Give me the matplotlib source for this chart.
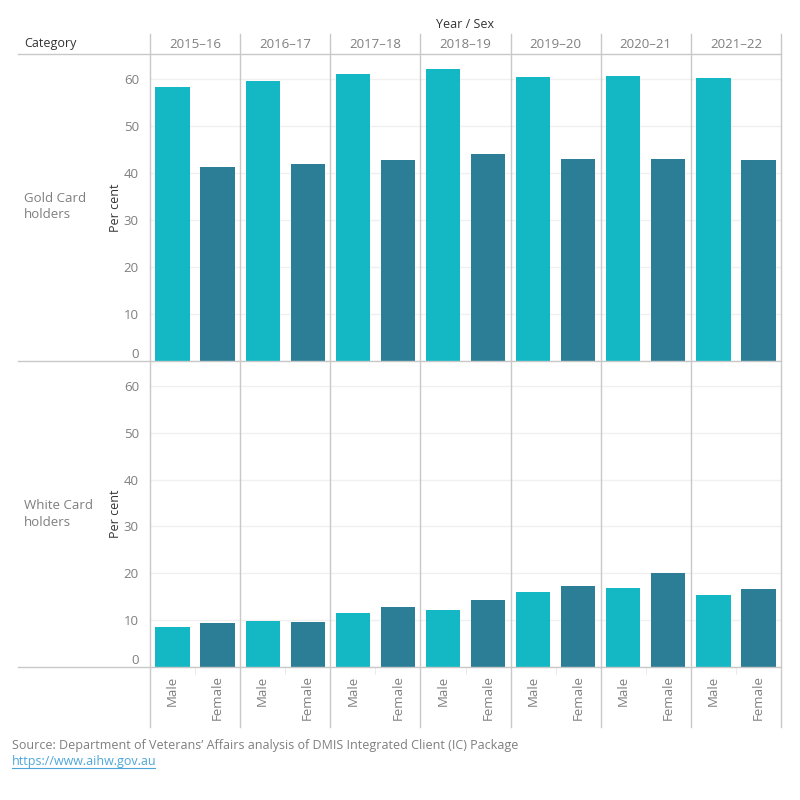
import matplotlib.pyplot as plt
from matplotlib.lines import Line2D

years = ["2015–16", "2016–17", "2017–18", "2018–19", "2019–20", "2020–21", "2021–22"]
sexes = ["Male", "Female"]
categories = ["Gold Card\nholders", "White Card\nholders"]
gold_male = [58.3, 59.6, 61.1, 62.1, 60.4, 60.6, 60.2]
gold_female = [41.3, 41.9, 42.8, 44.0, 43.0, 43.0, 42.8]
white_male = [8.5, 9.8, 11.5, 12.1, 16.0, 16.8, 15.3]
white_female = [9.4, 9.6, 12.8, 14.3, 17.3, 20.0, 16.6]

MALE_C = "#14B8C4"
FEMALE_C = "#2C7E97"
GRID_C = "#C8C8C8"
TXT_GREY = "#7F7F7F"

plt.rcParams["font.family"] = ["Open Sans", "DejaVu Sans"]

W = H = 800
fig = plt.figure(figsize=(8, 8), dpi=100)


def px(x, y):
    return x / W, 1 - y / H


def fig_line(x0, y0, x1, y1, color=GRID_C, lw=1.0):
    a, b = px(x0, y0)
    c, d = px(x1, y1)
    fig.add_artist(Line2D([a, c], [b, d], transform=fig.transFigure,
                          color=color, lw=lw, zorder=10))


panels = [(54, 361, gold_male, gold_female), (361, 667, white_male, white_female)]
axes = []
for top, bottom, male, female in panels:
    l, b = px(150, bottom)
    ax = fig.add_axes([l, b, 631 / W, (bottom - top) / H])
    xm = [2 * i for i in range(len(years))]
    xf = [2 * i + 1 for i in range(len(years))]
    ax.bar(xm, male, width=0.76, color=MALE_C, zorder=3)
    ax.bar(xf, female, width=0.76, color=FEMALE_C, zorder=3)
    ax.set_xlim(-0.5, 2 * len(years) - 0.5)
    ax.set_ylim(0, 65.3)
    ax.set_yticks(range(0, 61, 10))
    ax.yaxis.grid(True, color="#F0F0F0", lw=1, zorder=0)
    ax.tick_params(axis="y", length=0, pad=8, labelsize=9.5, labelcolor=TXT_GREY)
    ax.get_yticklabels()[0].set_verticalalignment("bottom")
    for s in ax.spines.values():
        s.set_visible(False)
    ax.set_ylabel("Per cent", fontsize=9, color="#333333", labelpad=1)
    axes.append(ax)

axes[0].set_xticks([])
ax = axes[1]
ax.set_xticks(range(2 * len(years)))
ax.set_xticklabels(sexes * len(years), rotation=90, fontsize=9.5, color=TXT_GREY)
ax.tick_params(axis="x", length=0, pad=6)
ax.set_xticks([2 * i + 0.5 for i in range(len(years))], minor=True)
ax.tick_params(axis="x", which="minor", length=5, color="#E6E6E6")

# frame lines
for x in [150 + 90.14 * i for i in range(len(years) + 1)]:
    fig_line(x, 34, x, 727)
for y in [54, 361, 667]:
    fig_line(18, y, 781, y)

# headers
fig.text(*px(465, 24), "Year / Sex", ha="center", va="center", fontsize=9,
         color="#333333", fontweight="medium")
fig.text(*px(24, 44), "Category", ha="left", va="center", fontsize=9,
         color="#333333", fontweight="medium")
for i, yr in enumerate(years):
    fig.text(*px(150 + 90.14 * (i + 0.5), 44), yr, ha="center", va="center",
             fontsize=9.5, color=TXT_GREY)
fig.text(*px(24, 207), categories[0], ha="left", va="center", fontsize=9.5,
         color=TXT_GREY, linespacing=1.3)
fig.text(*px(24, 514), categories[1], ha="left", va="center", fontsize=9.5,
         color=TXT_GREY, linespacing=1.3)

# footer
fig.text(*px(12, 745), "Source: Department of Veterans’ Affairs analysis of DMIS Integrated Client (IC) Package",
         ha="left", va="center", fontsize=9, color=TXT_GREY)
fig.text(*px(12, 761), "https://www.aihw.gov.au", ha="left", va="center",
         fontsize=9, color="#4DA6D9")
fig_line(12, 768, 155, 768, color="#4DA6D9", lw=0.8)

fig.savefig("out.png", dpi=100, facecolor="white")
